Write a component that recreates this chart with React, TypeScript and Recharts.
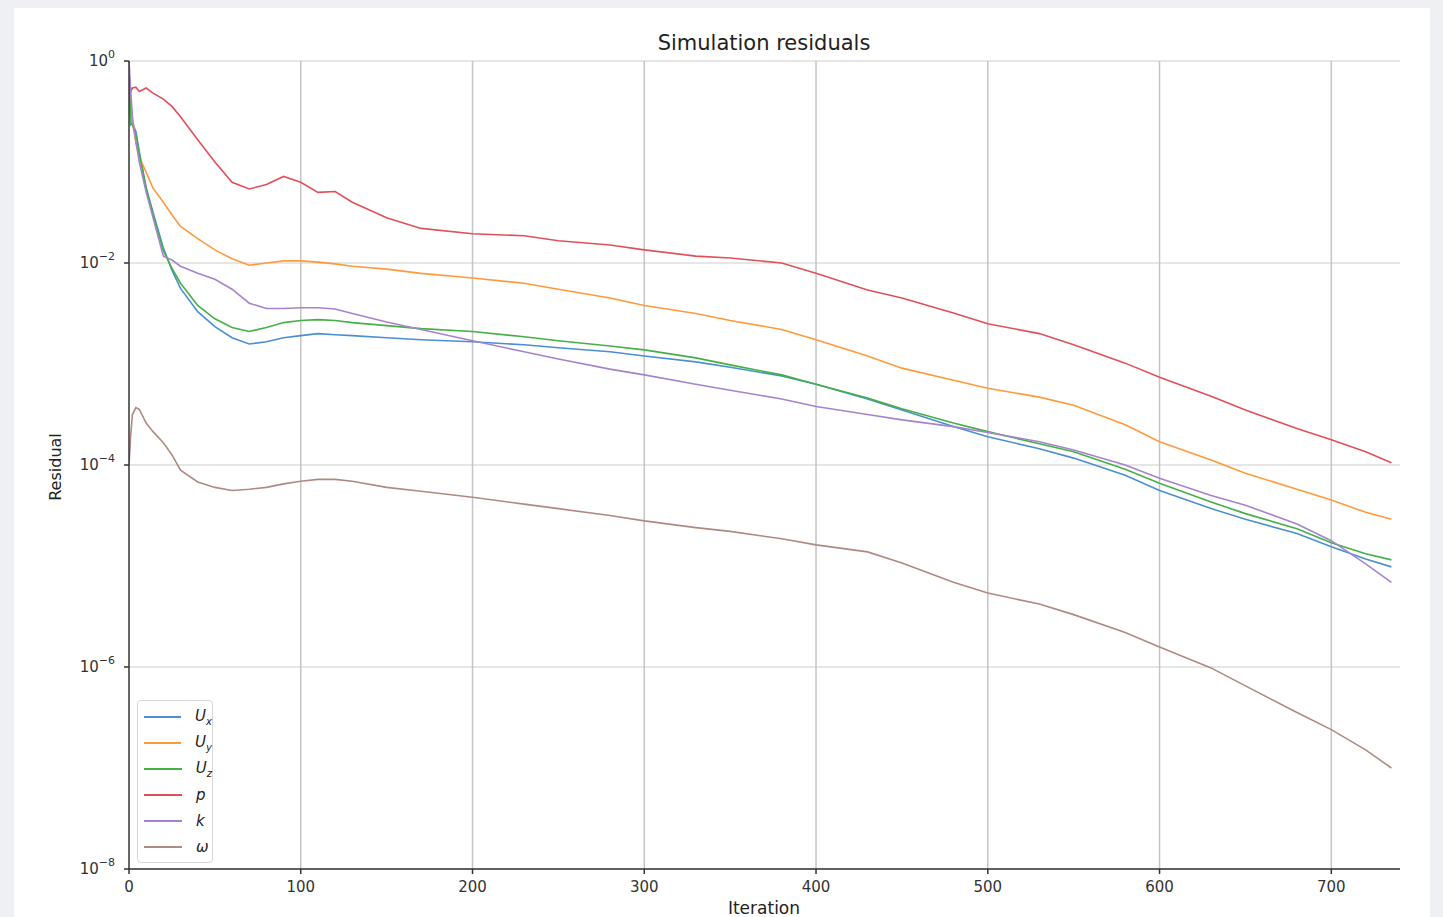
import { LineChart, Line, XAxis, YAxis, CartesianGrid, ReferenceLine } from 'recharts'

const iterations = [0, 1, 2, 4, 6, 10, 14, 20, 25, 30, 40, 50, 60, 70, 80, 90, 100, 110, 120, 130, 150, 170, 200, 230, 250, 280, 300, 330, 350, 380, 400, 430, 450, 480, 500, 530, 550, 580, 600, 630, 650, 680, 700, 720, 735]

const ux = [0.79, 0.234, 0.24, 0.2, 0.126, 5.6e-2, 3.16e-2, 1.41e-2, 8.5e-3, 5.6e-3, 3.3e-3, 2.34e-3, 1.82e-3, 1.58e-3, 1.66e-3, 1.82e-3, 1.91e-3, 2.0e-3, 1.95e-3, 1.91e-3, 1.82e-3, 1.74e-3, 1.66e-3, 1.55e-3, 1.45e-3, 1.32e-3, 1.2e-3, 1.05e-3, 9.3e-4, 7.6e-4, 6.3e-4, 4.5e-4, 3.5e-4, 2.4e-4, 1.9e-4, 1.45e-4, 1.17e-4, 7.9e-5, 5.6e-5, 3.7e-5, 2.9e-5, 2.1e-5, 1.55e-5, 1.17e-5, 9.8e-6]

const uy = [0.79, 0.4, 0.25, 0.158, 0.112, 7.9e-2, 5.5e-2, 4.0e-2, 3.0e-2, 2.3e-2, 1.74e-2, 1.35e-2, 1.1e-2, 9.5e-3, 1.0e-2, 1.05e-2, 1.05e-2, 1.02e-2, 9.8e-3, 9.3e-3, 8.7e-3, 7.9e-3, 7.1e-3, 6.3e-3, 5.5e-3, 4.5e-3, 3.8e-3, 3.16e-3, 2.7e-3, 2.2e-3, 1.74e-3, 1.2e-3, 9.1e-4, 6.9e-4, 5.75e-4, 4.7e-4, 3.9e-4, 2.5e-4, 1.7e-4, 1.12e-4, 8.3e-5, 5.75e-5, 4.5e-5, 3.4e-5, 2.9e-5]

const uz = [0.79, 0.24, 0.234, 0.19, 0.12, 5.4e-2, 3.0e-2, 1.32e-2, 8.9e-3, 6.3e-3, 3.8e-3, 2.8e-3, 2.3e-3, 2.1e-3, 2.3e-3, 2.57e-3, 2.7e-3, 2.75e-3, 2.7e-3, 2.57e-3, 2.4e-3, 2.24e-3, 2.1e-3, 1.86e-3, 1.7e-3, 1.51e-3, 1.38e-3, 1.15e-3, 9.8e-4, 7.8e-4, 6.3e-4, 4.6e-4, 3.6e-4, 2.6e-4, 2.14e-4, 1.62e-4, 1.35e-4, 9.1e-5, 6.6e-5, 4.3e-5, 3.3e-5, 2.34e-5, 1.7e-5, 1.32e-5, 1.15e-5]

const p = [0.71, 0.5, 0.54, 0.55, 0.5, 0.54, 0.48, 0.42, 0.355, 0.28, 0.166, 0.1, 6.3e-2, 5.4e-2, 6.0e-2, 7.2e-2, 6.3e-2, 5.0e-2, 5.1e-2, 4.0e-2, 2.8e-2, 2.2e-2, 1.95e-2, 1.86e-2, 1.66e-2, 1.51e-2, 1.35e-2, 1.17e-2, 1.12e-2, 1.0e-2, 7.9e-3, 5.4e-3, 4.5e-3, 3.2e-3, 2.5e-3, 2.0e-3, 1.55e-3, 1.02e-3, 7.4e-4, 4.8e-4, 3.5e-4, 2.3e-4, 1.78e-4, 1.35e-4, 1.05e-4]

const k = [1.0, 0.5, 0.28, 0.158, 0.1, 5.0e-2, 2.8e-2, 1.17e-2, 1.07e-2, 9.3e-3, 7.9e-3, 6.9e-3, 5.5e-3, 4.0e-3, 3.55e-3, 3.55e-3, 3.6e-3, 3.6e-3, 3.5e-3, 3.16e-3, 2.6e-3, 2.2e-3, 1.7e-3, 1.32e-3, 1.12e-3, 8.9e-4, 7.8e-4, 6.3e-4, 5.5e-4, 4.5e-4, 3.8e-4, 3.16e-4, 2.8e-4, 2.4e-4, 2.1e-4, 1.7e-4, 1.41e-4, 1.0e-4, 7.4e-5, 5.0e-5, 4.0e-5, 2.6e-5, 1.78e-5, 1.05e-5, 6.9e-6]

const omega = [1.0e-4, 2.0e-4, 3.16e-4, 3.7e-4, 3.55e-4, 2.6e-4, 2.14e-4, 1.66e-4, 1.26e-4, 8.9e-5, 6.8e-5, 6.0e-5, 5.6e-5, 5.75e-5, 6.0e-5, 6.5e-5, 6.9e-5, 7.2e-5, 7.2e-5, 6.9e-5, 6.0e-5, 5.5e-5, 4.8e-5, 4.1e-5, 3.7e-5, 3.16e-5, 2.8e-5, 2.4e-5, 2.2e-5, 1.86e-5, 1.62e-5, 1.38e-5, 1.07e-5, 6.9e-6, 5.4e-6, 4.2e-6, 3.3e-6, 2.2e-6, 1.58e-6, 9.8e-7, 6.5e-7, 3.55e-7, 2.4e-7, 1.51e-7, 1.0e-7]

const xTicks = [0, 100, 200, 300, 400, 500, 600, 700]
const yTicks = [1e-8, 1e-6, 1e-4, 1e-2, 1]
const yExponents = ['−8', '−6', '−4', '−2', '0']

const series = [
  { key: 'ux', base: 'U', sub: 'x', color: '#4a90d0' },
  { key: 'uy', base: 'U', sub: 'y', color: '#ff9a3c' },
  { key: 'uz', base: 'U', sub: 'z', color: '#45b045' },
  { key: 'p', base: 'p', sub: '', color: '#e0505a' },
  { key: 'k', base: 'k', sub: '', color: '#a683cf' },
  { key: 'omega', base: 'ω', sub: '', color: '#b08a82' },
]

const data = iterations.map((it, i) => ({
  it,
  ux: ux[i],
  uy: uy[i],
  uz: uz[i],
  p: p[i],
  k: k[i],
  omega: omega[i],
}))

const font = '"DejaVu Sans", sans-serif'

function YTick(props: any) {
  const { x, y, payload } = props
  const idx = yTicks.indexOf(payload.value)
  return (
    <text x={x - 7} y={y + 5} textAnchor="end" fontFamily={font} fill="#333">
      <tspan fontSize={15}>10</tspan>
      <tspan fontSize={11} dy={-8}>{yExponents[idx]}</tspan>
    </text>
  )
}

function LegendBox() {
  return (
    <div
      style={{
        position: 'absolute',
        left: 137,
        top: 700,
        border: '1px solid #d8d8d8',
        borderRadius: 4,
        background: 'rgba(255,255,255,0.9)',
        padding: '3px 0 2px 6px',
        width: 68,
        fontFamily: font,
      }}
    >
      {series.map((s) => (
        <div key={s.key} style={{ display: 'flex', alignItems: 'center', height: 26 }}>
          <div style={{ width: 38, height: 2, background: s.color, marginRight: 14 }} />
          <span style={{ fontStyle: 'italic', fontSize: 15, color: '#222' }}>
            {s.base}
            {s.sub && <sub style={{ fontSize: 10 }}>{s.sub}</sub>}
          </span>
        </div>
      ))}
    </div>
  )
}

export default function App() {
  return (
    <div style={{ position: 'fixed', left: 0, top: 0, width: 1443, height: 917, background: '#eef0f4', overflow: 'hidden' }}>
      <div style={{ position: 'absolute', left: 14, top: 8, width: 1416, height: 909, background: '#fff' }} />
      <div
        style={{
          position: 'absolute',
          left: 0,
          width: 1528,
          top: 31,
          textAlign: 'center',
          fontFamily: font,
          fontSize: 21,
          color: '#222',
        }}
      >
        Simulation residuals
      </div>
      <div
        style={{
          position: 'absolute',
          left: 0,
          width: 1528,
          top: 898,
          textAlign: 'center',
          fontFamily: font,
          fontSize: 17,
          color: '#222',
        }}
      >
        Iteration
      </div>
      <div
        style={{
          position: 'absolute',
          left: 55,
          top: 467,
          transform: 'translate(-50%, -50%) rotate(-90deg)',
          fontFamily: font,
          fontSize: 16,
          color: '#222',
        }}
      >
        Residual
      </div>
      <div style={{ position: 'absolute', left: 0, top: 0 }}>
        <LineChart width={1443} height={917} data={data} margin={{ top: 61, right: 43, bottom: 0, left: 0 }}>
          <CartesianGrid vertical={false} stroke="#dedede" strokeWidth={1.5} />
          {xTicks.slice(1).map((t) => (
            <ReferenceLine key={t} x={t} stroke="#c4c4c4" strokeWidth={1.5} />
          ))}
          <XAxis
            dataKey="it"
            type="number"
            domain={[0, 740]}
            ticks={xTicks}
            allowDataOverflow
            height={48}
            stroke="#333"
            strokeWidth={1.5}
            tickSize={5}
            tick={{ fontSize: 15, fontFamily: font, fill: '#333', dy: 5 }}
          />
          <YAxis
            type="number"
            scale="log"
            domain={[1e-8, 1]}
            ticks={yTicks}
            allowDataOverflow
            width={129}
            stroke="#333"
            strokeWidth={1.5}
            tickSize={5}
            tick={<YTick />}
          />
          {series.map((s) => (
            <Line
              key={s.key}
              dataKey={s.key}
              type="linear"
              stroke={s.color}
              strokeWidth={1.6}
              dot={false}
              isAnimationActive={false}
            />
          ))}
        </LineChart>
      </div>
      <LegendBox />
    </div>
  )
}
